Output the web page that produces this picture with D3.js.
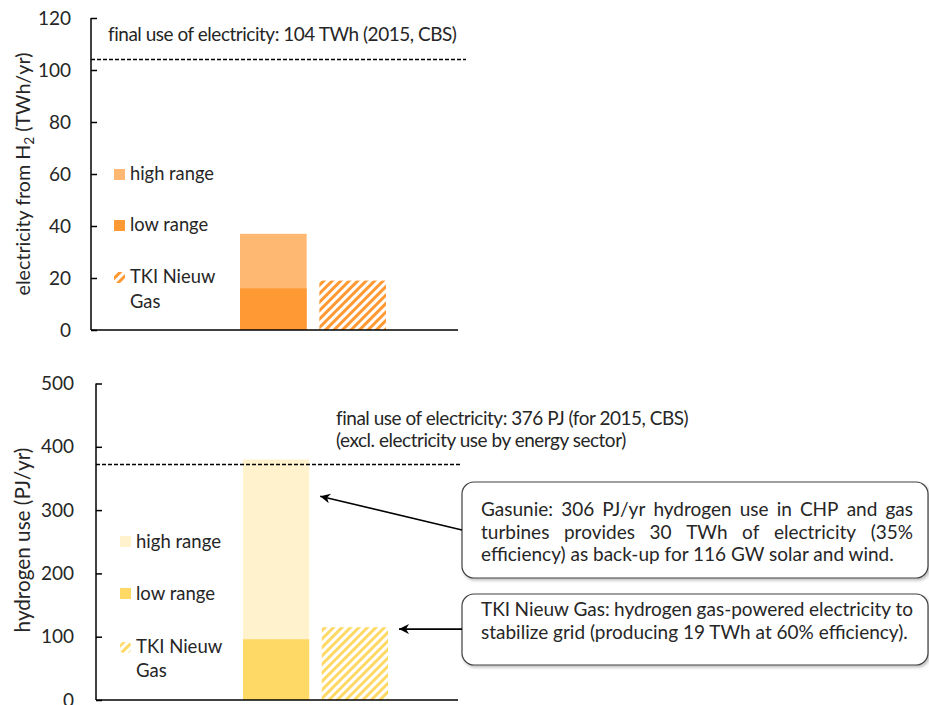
<!DOCTYPE html>
<html><head><meta charset="utf-8">
<script src="https://cdn.jsdelivr.net/npm/d3@7"></script>
<style>
html,body{margin:0;padding:0;background:#fff;}
svg{display:block;font-family:Lato,"Open Sans",sans-serif;}
</style></head>
<body>
<svg id="chart" width="929" height="705"></svg>
<script>
// ---------- data ----------
const barKeys = ["Gasunie", "TKI Nieuw Gas"];
// top panel: electricity from H2 (TWh/yr)
const elecLow = [16, 0];
const elecHigh = [37, 0];
const elecTKI = [0, 19];
const elecTicks = [0, 20, 40, 60, 80, 100, 120];
const elecRef = 104;
// bottom panel: hydrogen use (PJ/yr)
const h2Low = [96, 0];
const h2High = [380, 0];
const h2TKI = [0, 115];
const h2Ticks = [0, 100, 200, 300, 400, 500];
const h2Ref = 372;
const legendLabels = ["high range", "low range", "TKI Nieuw", "Gas"];
const topNote = "final use of electricity: 104 TWh (2015, CBS)";
const bottomNote = ["final use of electricity: 376 PJ (for 2015, CBS)", "(excl. electricity use by energy sector)"];
const box1Lines = ["Gasunie: 306 PJ/yr hydrogen use in CHP and gas", "turbines provides 30 TWh of electricity (35%", "efficiency) as back-up for 116 GW solar and wind."];
const box2Lines = ["TKI Nieuw Gas: hydrogen gas-powered electricity to", "stabilize grid (producing 19 TWh at 60% efficiency)."];

const svg = d3.select("#chart");
const TXT = "#262626";
const defs = svg.append("defs");

function hatch(id, color) {
  const p = defs.append("pattern").attr("id", id).attr("patternUnits", "userSpaceOnUse")
    .attr("width", 6).attr("height", 6).attr("patternTransform", "rotate(45)");
  p.append("rect").attr("width", 6).attr("height", 6).attr("fill", "#fff");
  p.append("rect").attr("width", 3).attr("height", 6).attr("fill", color);
}
hatch("hatchO", "#FF9933");
hatch("hatchY", "#FFD966");

const blur = defs.append("filter").attr("id", "blur").attr("x", "-5%").attr("y", "-200%").attr("width", "110%").attr("height", "500%");
blur.append("feGaussianBlur").attr("stdDeviation", 1.6);
const sh = defs.append("filter").attr("id", "shadow").attr("x", "-5%").attr("y", "-10%").attr("width", "115%").attr("height", "130%");
sh.append("feDropShadow").attr("dx", 1.5).attr("dy", 2).attr("stdDeviation", 1.5).attr("flood-color", "#000").attr("flood-opacity", 0.25);

defs.append("marker").attr("id", "arrow").attr("viewBox", "0 0 10 10").attr("refX", 10).attr("refY", 5)
  .attr("markerWidth", 13).attr("markerHeight", 10).attr("markerUnits", "userSpaceOnUse").attr("orient", "auto")
  .append("path").attr("d", "M0,0 L10,5 L0,10 L3,5 Z").attr("fill", "#000");

function fit(sel, target) {
  const w = sel.node().getComputedTextLength();
  const fs = parseFloat(sel.attr("font-size"));
  sel.attr("font-size", fs * target / w);
  return sel;
}
// Calibri-like: slightly larger glyphs, tighter letter spacing, same total width
function fitTight(sel, target, grow) {
  fit(sel, target);
  const fs = parseFloat(sel.attr("font-size")) * grow;
  sel.attr("font-size", fs);
  const w = sel.node().getComputedTextLength();
  const ls = (target - w) / sel.text().length;
  sel.attr("letter-spacing", ls);
  return {fs, ls};
}

function panel(cfg) {
  const g = svg.append("g");
  const y = d3.scaleLinear().domain([0, cfg.ticks[cfg.ticks.length - 1]]).range([cfg.y0, cfg.yTop]);
  const x = d3.scaleBand().domain(barKeys).range(cfg.barRange).paddingInner(0.16);

  g.selectAll(".hi").data(barKeys).join("rect")
    .attr("x", d => x(d)).attr("width", x.bandwidth())
    .attr("y", (d, i) => y(cfg.high[i])).attr("height", (d, i) => y(0) - y(cfg.high[i]))
    .attr("fill", cfg.cHigh);
  g.selectAll(".lo").data(barKeys).join("rect")
    .attr("x", d => x(d)).attr("width", x.bandwidth())
    .attr("y", (d, i) => y(cfg.low[i])).attr("height", (d, i) => y(0) - y(cfg.low[i]))
    .attr("fill", cfg.cLow);
  g.selectAll(".tk").data(barKeys).join("rect")
    .attr("x", d => x(d)).attr("width", x.bandwidth())
    .attr("y", (d, i) => y(cfg.tki[i])).attr("height", (d, i) => y(0) - y(cfg.tki[i]))
    .attr("fill", `url(#${cfg.hatch})`);

  g.append("line").attr("x1", cfg.axisX).attr("x2", cfg.refEnd)
    .attr("y1", y(cfg.ref) + 3).attr("y2", y(cfg.ref) + 3)
    .attr("stroke", "#999").attr("stroke-width", 2.5).attr("filter", "url(#blur)").attr("opacity", 0.6);
  g.append("line").attr("x1", cfg.axisX).attr("x2", cfg.refEnd)
    .attr("y1", y(cfg.ref)).attr("y2", y(cfg.ref))
    .attr("stroke", "#000").attr("stroke-width", 1.5).attr("stroke-dasharray", "4,2");

  const ax = g.append("g").attr("transform", `translate(${cfg.axisX},0)`)
    .call(d3.axisLeft(y).tickValues(cfg.ticks).tickSize(-6).tickPadding(cfg.pad));
  ax.select(".domain").attr("d", `M0,${y(cfg.ticks[cfg.ticks.length-1])}V${cfg.y0}`).attr("stroke", "#000").attr("stroke-width", 1.5);
  ax.selectAll(".tick line").attr("stroke", "#000").attr("stroke-width", 1.5);
  ax.selectAll(".tick text").attr("font-size", 19).attr("fill", TXT).attr("font-family", "Lato");

  g.append("line").attr("x1", cfg.axisX).attr("x2", cfg.axisEnd).attr("y1", cfg.y0).attr("y2", cfg.y0)
    .attr("stroke", "#000").attr("stroke-width", 1.5);

  const t = g.append("text").attr("transform", `translate(${cfg.titleX},${cfg.titleY}) rotate(-90)`)
    .attr("text-anchor", "middle").attr("font-size", 17).attr("fill", TXT);
  cfg.title(t);
  fit(t, cfg.titleW);

  const L = cfg.leg;
  const items = [
    {fill: cfg.cHigh, y: L.sq[0], ty: L.ty[0], label: legendLabels[0]},
    {fill: cfg.cLow, y: L.sq[1], ty: L.ty[1], label: legendLabels[1]},
    {fill: `url(#${cfg.hatch})`, y: L.sq[2], ty: L.ty[2], label: legendLabels[2]}
  ];
  let fsL = 17;
  items.forEach((it, i) => {
    g.append("rect").attr("x", L.x).attr("y", it.y).attr("width", 11).attr("height", 11).attr("fill", it.fill)
      .attr("rx", i === 2 ? 4 : 0);
    const tt = g.append("text").attr("x", L.x + 16).attr("y", it.ty).attr("font-size", fsL).attr("fill", TXT).text(it.label);
    if (i === 0) { fit(tt, L.w); fsL = tt.attr("font-size"); }
  });
  g.append("text").attr("x", L.x + 16).attr("y", L.ty[3]).attr("font-size", fsL).attr("fill", TXT).text(legendLabels[3]);
  return {g, y, x};
}

const P1 = panel({
  ticks: elecTicks, y0: 330, yTop: 18, barRange: [240, 386], axisX: 91, axisEnd: 458, refEnd: 466, pad: 20,
  low: elecLow, high: elecHigh, tki: elecTKI, ref: elecRef,
  cLow: "#FF9933", cHigh: "#FFB872", hatch: "hatchO",
  titleX: 30, titleY: 174, titleW: 243,
  title: t => { t.append("tspan").text("electricity from H"); t.append("tspan").attr("font-size", "70%").attr("dy", 4).text("2"); t.append("tspan").attr("dy", -4).text(" (TWh/yr)"); },
  leg: {x: 114, sq: [169, 220, 272], ty: [180, 231, 283, 308], w: 84}
});
const n1 = svg.append("text").attr("x", 108).attr("y", 41).attr("font-size", 16).attr("fill", TXT).text(topNote);
const tight = fitTight(n1, 348, 1.06);

const P2 = panel({
  ticks: h2Ticks, y0: 700, yTop: 383.5, barRange: [243, 388], axisX: 96, axisEnd: 458, refEnd: 460, pad: 22,
  low: h2Low, high: h2High, tki: h2TKI, ref: h2Ref,
  cLow: "#FFD966", cHigh: "#FFF2CC", hatch: "hatchY",
  titleX: 30, titleY: 540, titleW: 185,
  title: t => t.text("hydrogen use (PJ/yr)"),
  leg: {x: 120, sq: [536, 588, 642], ty: [548, 600, 653, 677], w: 85}
});
bottomNote.forEach((s, i) => {
  svg.append("text").attr("x", 336).attr("y", [425, 447][i]).attr("font-size", tight.fs)
    .attr("letter-spacing", tight.ls).attr("fill", TXT).text(s);
});

// annotation boxes with word-justified lines
function box(x0, y0, w, h, lines, baselines, justify, fs) {
  const g = svg.append("g");
  g.append("rect").attr("x", x0).attr("y", y0).attr("width", w).attr("height", h).attr("rx", 12)
    .attr("fill", "#fff").attr("stroke", "#404040").attr("stroke-width", 1.2).attr("filter", "url(#shadow)");
  lines.forEach((s, i) => {
    const tx = x0 + 19;
    if (!justify[i]) {
      g.append("text").attr("x", tx).attr("y", baselines[i]).attr("font-size", fs).attr("fill", TXT).text(s);
      return;
    }
    const words = s.split(" ");
    const widths = words.map(wd => {
      const tmp = g.append("text").attr("font-size", fs).text(wd);
      const ww = tmp.node().getComputedTextLength(); tmp.remove(); return ww;
    });
    const gap = (justify[i] - d3.sum(widths)) / (words.length - 1);
    let cx = tx;
    words.forEach((wd, k) => {
      g.append("text").attr("x", cx).attr("y", baselines[i]).attr("font-size", fs).attr("fill", TXT).text(wd);
      cx += widths[k] + gap;
    });
  });
  return g;
}
const probe = svg.append("text").attr("font-size", 15.5).text(box1Lines[2]);
const fsBox = 15.5 * 413 / probe.node().getComputedTextLength();
probe.remove();
box(462, 482, 466, 96, box1Lines, [516, 539, 561], [432, 432, 0], fsBox);
box(462, 594, 466, 71, box2Lines, [616, 639], [432, 0], fsBox);

const yB = P2.y, xB = P2.x;
svg.append("line").attr("x1", 462).attr("y1", 530).attr("x2", xB("Gasunie") + xB.bandwidth() + 11).attr("y2", yB(322))
  .attr("stroke", "#000").attr("stroke-width", 1.6).attr("marker-end", "url(#arrow)");
svg.append("line").attr("x1", 462).attr("y1", yB(112)).attr("x2", xB("TKI Nieuw Gas") + xB.bandwidth() + 11).attr("y2", yB(112))
  .attr("stroke", "#000").attr("stroke-width", 1.6).attr("marker-end", "url(#arrow)");
</script>
</body></html>
